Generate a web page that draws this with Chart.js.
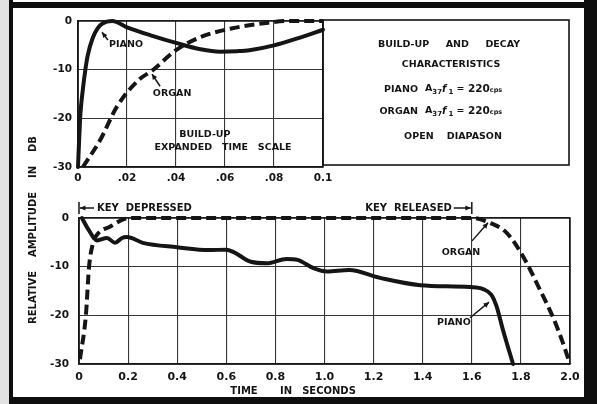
<!DOCTYPE html>
<html>
<head>
<meta charset="utf-8">
<script src="https://cdn.jsdelivr.net/npm/chart.js@4.4.1/dist/chart.umd.min.js"></script>
<style>
html, body { margin: 0; padding: 0; background: #fff; }
#wrap { position: relative; width: 597px; height: 404px; overflow: hidden; background: #fff; }
canvas { position: absolute; left: 0; top: 0; }
.edge { position: absolute; background: #0e0e0e; }
</style>
</head>
<body>
<div id="wrap">
  <canvas id="buildup" width="597" height="404"></canvas>
  <canvas id="envelope" width="597" height="404"></canvas>
  <div class="edge" style="left:0;top:0;width:9px;height:404px;background:#e2e2e2"></div>
  <div class="edge" style="left:9px;top:0;width:4px;height:404px"></div>
  <div class="edge" style="left:9px;top:2px;width:588px;height:6px"></div>
  <div class="edge" style="left:584px;top:0;width:13px;height:404px"></div>
  <div class="edge" style="left:9px;top:397px;width:588px;height:7px"></div>
</div>
<script>
/* ---- build-up and decay, piano vs organ (A37, 220 cps) ---- */

const INK  = '#151515';
const GRID = '#363636';
const FONT = '"DejaVu Sans", sans-serif';

// top panel: build-up, expanded time scale (seconds)
const buildPianoT = [0, 0.0005, 0.001, 0.002, 0.003, 0.004, 0.006, 0.008, 0.010, 0.014, 0.02, 0.03, 0.04, 0.05, 0.058, 0.065, 0.07, 0.08, 0.09, 0.1];
const buildPiano  = [-30, -24, -19, -14, -10, -7, -3.5, -1.5, -0.5, 0, -1.3, -3, -4.5, -5.8, -6.3, -6.2, -6, -5, -3.5, -1.8];
const buildOrganT = [0.002, 0.009, 0.016, 0.025, 0.03, 0.04, 0.05, 0.063, 0.077, 0.085, 0.1];
const buildOrgan  = [-30, -24.5, -17.5, -12, -10.3, -6, -3.3, -1.5, -0.4, 0, 0];
const buildTicks  = [0, 0.02, 0.04, 0.06, 0.08, 0.1];
const buildLabels = ['0', '.02', '.04', '.06', '.08', '0.1'];

// bottom panel: full envelope (seconds)
const envPianoT = [0.012, 0.04, 0.073, 0.114, 0.147, 0.175, 0.195, 0.26, 0.4, 0.53, 0.6, 0.63, 0.7, 0.765, 0.845, 0.89, 0.955, 1.01, 1.1, 1.226, 1.39, 1.593, 1.646, 1.68, 1.70, 1.727, 1.768];
const envPiano  = [0, -2.5, -4.6, -4.1, -5.1, -4.1, -3.9, -5.1, -6, -6.6, -6.5, -7, -9, -9.3, -8.4, -8.6, -10.3, -11, -10.7, -12.3, -13.8, -14.2, -14.6, -15.8, -18, -23, -30];
const envOrganT = [0.004, 0.028, 0.041, 0.057, 0.079, 0.126, 0.18, 0.22, 0.6, 1.0, 1.4, 1.6, 1.674, 1.743, 1.81, 1.878, 1.93, 1.97, 2.0];
const envOrgan  = [-29, -20, -10, -5.2, -3.1, -1.8, -0.3, 0, 0, 0, 0, 0, -1, -3.1, -8, -14.8, -20.3, -25.5, -30];
const timeTicks  = [0, 0.2, 0.4, 0.6, 0.8, 1.0, 1.2, 1.4, 1.6, 1.8, 2.0];
const timeLabels = ['0', '0.2', '0.4', '0.6', '0.8', '1.0', '1.2', '1.4', '1.6', '1.8', '2.0'];

const ampTicks  = [-30, -20, -10, 0];
const ampLabels = ['-30', '-20', '-10', '0'];

/* ── helpers ─────────────────────────────────────────── */
const pts = (xs, ys) => xs.map((x, i) => ({ x, y: ys[i] }));

function pianoSet(data) {
    return { data, borderColor: INK, borderWidth: 4, pointRadius: 0, fill: false,
             cubicInterpolationMode: 'monotone', borderCapStyle: 'round', clip: 4 };
}
function organSet(data) {
    return { data, borderColor: INK, borderWidth: 4, pointRadius: 0, fill: false,
             borderDash: [10, 5], cubicInterpolationMode: 'monotone', clip: 4 };
}

function scales(o) {
    const tickFont = size => ({ family: FONT, size, weight: 'bold' });
    return {
        x: {
            type: 'linear', min: 0, max: o.xTicks[o.xTicks.length - 1],
            afterBuildTicks: s => { s.ticks = o.xTicks.map(v => ({ value: v })); },
            afterFit: s => { s.height = o.xHeight; },
            grid: { color: GRID, lineWidth: 1.1, drawTicks: false },
            border: { color: INK, width: 1.5 },
            ticks: { color: INK, padding: o.xPad, maxRotation: 0, autoSkip: false,
                     font: tickFont(o.xFont), callback: (v, i) => o.xLabels[i] },
        },
        y: {
            type: 'linear', min: -30, max: 0,
            afterBuildTicks: s => { s.ticks = ampTicks.map(v => ({ value: v })); },
            afterFit: s => { s.width = o.yWidth; },
            grid: { color: GRID, lineWidth: 1.1, drawTicks: false },
            border: { color: INK, width: 1.5 },
            ticks: { color: INK, padding: o.yPad, autoSkip: false,
                     font: tickFont(10.5), callback: (v, i) => ampLabels[i] },
        },
    };
}

function arrow(ctx, x1, y1, x2, y2) {
    const a = Math.atan2(y2 - y1, x2 - x1);
    ctx.beginPath();
    ctx.moveTo(x1, y1);
    ctx.lineTo(x2, y2);
    ctx.stroke();
    ctx.beginPath();
    ctx.moveTo(x2, y2);
    ctx.lineTo(x2 - 6 * Math.cos(a - 0.45), y2 - 6 * Math.sin(a - 0.45));
    ctx.lineTo(x2 - 6 * Math.cos(a + 0.45), y2 - 6 * Math.sin(a + 0.45));
    ctx.closePath();
    ctx.fill();
}

function label(ctx, txt, x, y, size = 9.5, align = 'center') {
    ctx.font = `bold ${size}px ${FONT}`;
    ctx.textAlign = align;
    ctx.textBaseline = 'middle';
    ctx.fillText(txt, x, y);
}

// "A37 f1 = 220cps" with subscripts
function formula(ctx, x, y) {
    const parts = [
        ['A', 'bold 9.5px', 0], ['37', 'bold 7px', 3], ['f', 'italic bold 10px', 0],
        ['1', 'bold 7px', 3], [' = ', 'bold 9.5px', 0], ['220', 'bold 10.5px', 0], ['cps', 'bold 6.5px', 1],
    ];
    ctx.textAlign = 'left';
    ctx.textBaseline = 'middle';
    for (const [t, f, dy] of parts) {
        ctx.font = `${f} ${FONT}`;
        ctx.fillText(t, x, y + dy);
        x += ctx.measureText(t).width + (t === 'f' ? 2 : 0);
    }
}

/* ── top panel annotations ───────────────────────────── */
const buildNotes = {
    id: 'buildNotes',
    afterDraw(chart) {
        const { ctx, chartArea: ca, scales: { x, y } } = chart;
        const P = (t, v) => [x.getPixelForValue(t), y.getPixelForValue(v)];
        ctx.save();
        ctx.strokeStyle = INK; ctx.fillStyle = INK;
        ctx.lineWidth = 1.5;
        ctx.strokeRect(ca.left, ca.top, ca.width, ca.height);

        // legend box to the right
        ctx.lineWidth = 1.6;
        ctx.strokeRect(ca.right, ca.top - 1, 569 - ca.right, 145);
        const cx = (ca.right + 569) / 2 + 3;
        label(ctx, 'BUILD-UP     AND     DECAY', cx, 45);
        label(ctx, 'CHARACTERISTICS', cx + 2, 65);
        label(ctx, 'PIANO', 418, 90, 9.5, 'right');
        formula(ctx, 425, 89);
        label(ctx, 'ORGAN', 418, 112, 9.5, 'right');
        formula(ctx, 425, 111);
        label(ctx, 'OPEN    DIAPASON', cx + 4, 137);

        ctx.lineWidth = 1.5;
        label(ctx, 'PIANO', ...P(0.0196, -4.9));
        arrow(ctx, ...P(0.0122, -3.9), ...P(0.0098, -2.3));
        label(ctx, 'ORGAN', ...P(0.0384, -15));
        arrow(ctx, ...P(0.0335, -13.4), ...P(0.0302, -10.9));
        label(ctx, 'BUILD-UP', ...P(0.0518, -23.4));
        label(ctx, 'EXPANDED   TIME   SCALE', ...P(0.0592, -26.1));
        ctx.restore();
    }
};

/* ── bottom panel annotations ────────────────────────── */
const envNotes = {
    id: 'envNotes',
    afterDraw(chart) {
        const { ctx, chartArea: ca, scales: { x, y } } = chart;
        const P = (t, v) => [x.getPixelForValue(t), y.getPixelForValue(v)];
        ctx.save();
        ctx.strokeStyle = INK; ctx.fillStyle = INK;
        ctx.lineWidth = 1.5;
        ctx.strokeRect(ca.left, ca.top, ca.width, ca.height);

        const ky = ca.top - 10;
        // key depressed at t = 0
        const x0 = x.getPixelForValue(0);
        ctx.beginPath(); ctx.moveTo(x0, ky - 6); ctx.lineTo(x0, ky + 6); ctx.stroke();
        arrow(ctx, x0 + 15, ky, x0 + 1, ky);
        label(ctx, 'KEY  DEPRESSED', x0 + 18, ky, 10, 'left');
        // key released at t = 1.6
        const x1 = x.getPixelForValue(1.6);
        ctx.beginPath(); ctx.moveTo(x1, ky - 6); ctx.lineTo(x1, ky + 6); ctx.stroke();
        arrow(ctx, x1 - 18, ky, x1 - 1, ky);
        label(ctx, 'KEY  RELEASED', x1 - 20, ky, 10, 'right');

        label(ctx, 'ORGAN', ...P(1.556, -7));
        arrow(ctx, ...P(1.601, -4.7), ...P(1.666, -1));
        label(ctx, 'PIANO', ...P(1.527, -21.4));
        arrow(ctx, ...P(1.593, -20.5), ...P(1.67, -17.3));

        // axis titles
        label(ctx, 'TIME', 244, 391, 10);
        label(ctx, 'IN', 286, 391, 10);
        label(ctx, 'SECONDS', 329, 391, 10);
        ctx.translate(33, 230);
        ctx.rotate(-Math.PI / 2);
        label(ctx, 'RELATIVE    AMPLITUDE    IN    DB', 0, 0, 10);
        ctx.restore();
    }
};

const common = {
    responsive: false,
    animation: false,
    events: [],
    plugins: { legend: { display: false }, tooltip: { enabled: false } },
};

new Chart(document.getElementById('buildup').getContext('2d'), {
    type: 'line',
    data: { datasets: [pianoSet(pts(buildPianoT, buildPiano)), organSet(pts(buildOrganT, buildOrgan))] },
    options: {
        ...common,
        layout: { padding: { left: 0, top: 21, right: 274, bottom: 0 } },
        scales: scales({ xTicks: buildTicks, xLabels: buildLabels, xHeight: 237, yWidth: 78,
                         xPad: 5, yPad: 6, xFont: 10.5 }),
    },
    plugins: [buildNotes],
});

new Chart(document.getElementById('envelope').getContext('2d'), {
    type: 'line',
    data: { datasets: [pianoSet(pts(envPianoT, envPiano)), organSet(pts(envOrganT, envOrgan))] },
    options: {
        ...common,
        layout: { padding: { left: 0, top: 218, right: 27, bottom: 0 } },
        scales: scales({ xTicks: timeTicks, xLabels: timeLabels, xHeight: 40, yWidth: 79,
                         xPad: 7, yPad: 10, xFont: 11 }),
    },
    plugins: [envNotes],
});
</script>
</body>
</html>
